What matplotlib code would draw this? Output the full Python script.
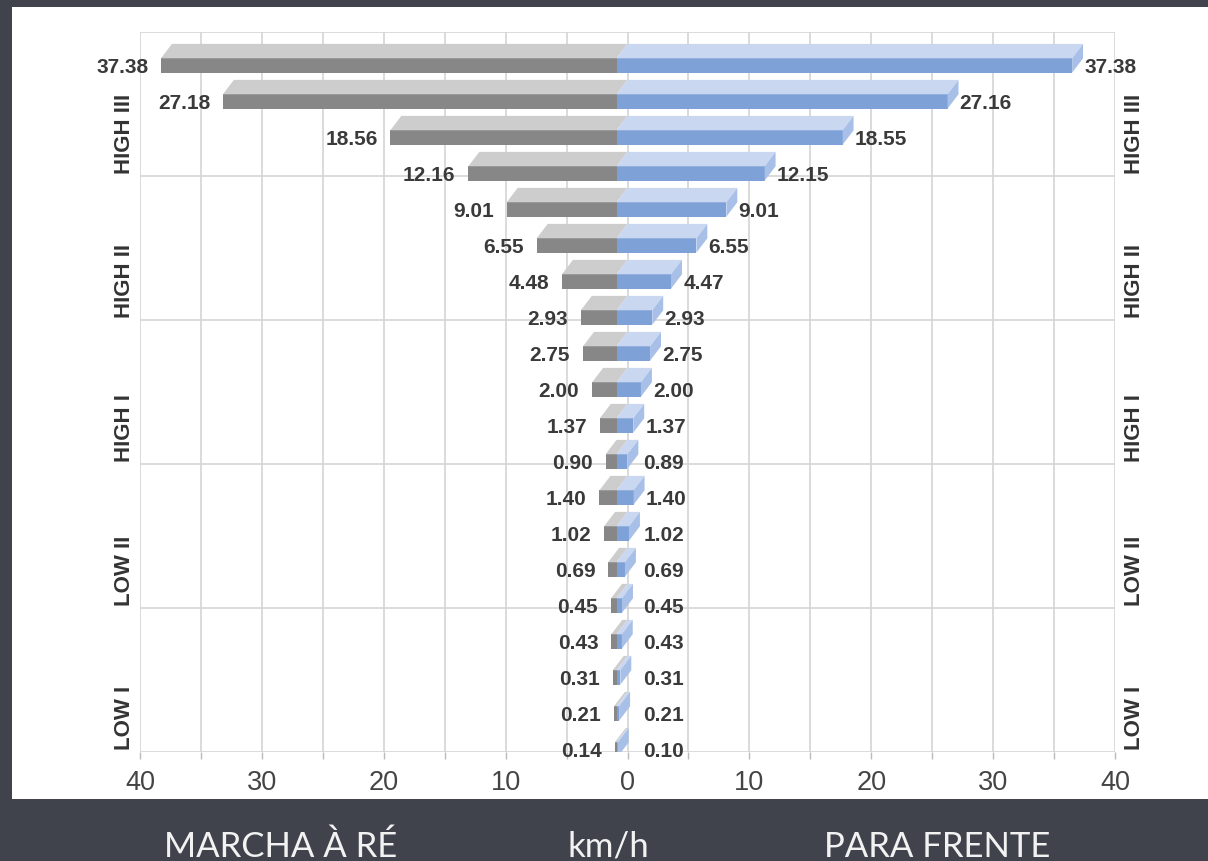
import numpy as np
import matplotlib.pyplot as plt
from matplotlib.patches import Polygon, Rectangle
from matplotlib.transforms import blended_transform_factory

# velocidades (km/h) por marcha, de cima para baixo
re_vals = [37.38, 27.18, 18.56, 12.16, 9.01, 6.55, 4.48, 2.93,
           2.75, 2.00, 1.37, 0.90, 1.40, 1.02, 0.69, 0.45,
           0.43, 0.31, 0.21, 0.14]
# comprimento desenhado das barras de ré (no original a 2ª barra é mais longa que o rótulo)
re_barras = [37.38, 32.3, 18.56, 12.16, 9.01, 6.55, 4.48, 2.93,
             2.75, 2.00, 1.37, 0.90, 1.40, 1.02, 0.69, 0.45,
             0.43, 0.31, 0.21, 0.14]
frente_vals = [37.38, 27.16, 18.55, 12.15, 9.01, 6.55, 4.47, 2.93,
               2.75, 2.00, 1.37, 0.89, 1.40, 1.02, 0.69, 0.45,
               0.43, 0.31, 0.21, 0.10]
grupos = ['HIGH III', 'HIGH II', 'HIGH I', 'LOW II', 'LOW I']
xticks = np.arange(-40, 41, 5)

bg = '#40434c'
cinza_frente, cinza_topo = '#878787', '#cdcdcd'
azul_frente, azul_topo, azul_lado = '#7ea2d8', '#c9d7f1', '#a8c0e8'

fig = plt.figure(figsize=(12.08, 8.62), dpi=100, facecolor=bg)
# painel branco
fig.patches.append(Rectangle((12 / 1208, 62 / 862), 1 - 12 / 1208, 792 / 862,
                             transform=fig.transFigure, facecolor='white',
                             edgecolor='none', zorder=-10))

ax = fig.add_axes([140 / 1208, 1 - 753 / 862, 975 / 1208, 720 / 862])
ax.set_zorder(1)
ax.set_facecolor('none')
ax.set_xlim(-40, 40)
ax.set_ylim(20, 0)

# grade
for t in xticks:
    ax.axvline(t, color='#d4d4d4', lw=1.2, zorder=1)
for g in range(0, 21, 4):
    ax.axhline(g, color='#d4d4d4', lw=1.2, zorder=1)
for sp in ax.spines.values():
    sp.set_visible(False)

s = 0.9      # deslocamento horizontal da profundidade
h = 0.4      # espessura da face frontal
d = 0.4      # profundidade vertical
n = len(re_vals)
yc = np.arange(n) + 0.93

# faces frontais
ax.barh(yc, [-v for v in re_barras], left=-s, height=h, color=cinza_frente, zorder=3)
ax.barh(yc, frente_vals, left=-s, height=h, color=azul_frente, zorder=3)

for i, (Lv, L, R) in enumerate(zip(re_vals, re_barras, frente_vals)):
    yft = yc[i] - h / 2
    yfb = yc[i] + h / 2
    ybt = yft - d
    ax.add_patch(Polygon([(-L - s, yft), (-s, yft), (0, ybt), (-L, ybt)],
                         closed=True, facecolor=cinza_topo, edgecolor='none', zorder=3))
    ax.add_patch(Polygon([(-s, yft), (R - s, yft), (R, ybt), (0, ybt)],
                         closed=True, facecolor=azul_topo, edgecolor='none', zorder=3))
    ax.add_patch(Polygon([(R - s, yft), (R, ybt), (R, ybt + h), (R - s, yfb)],
                         closed=True, facecolor=azul_lado, edgecolor='none', zorder=3))
    ax.text(-L - s - 1.05, i + 0.96, f'{Lv:.2f}', ha='right', va='center',
            fontsize=15, fontweight='bold', color='#3a3a3a',
            family='Liberation Sans', zorder=4)
    ax.text(max(R + 0.1, 1.3), i + 0.96, f'{R:.2f}', ha='left', va='center',
            fontsize=15, fontweight='bold', color='#3a3a3a',
            family='Liberation Sans', zorder=4)

# rótulos dos grupos nos dois lados
tr = blended_transform_factory(ax.transAxes, ax.transData)
for k, nome in enumerate(grupos):
    yb = (k + 1) * 4 - 0.08
    for xa in (-0.0154, 1.0205):
        ax.text(xa, yb, nome, rotation=90, ha='center', va='bottom',
                transform=tr, fontsize=16, fontweight='bold', color='#333333',
                family='Liberation Sans')

ax.set_xticks(xticks)
ax.set_xticklabels([str(abs(t)) if t % 10 == 0 else '' for t in xticks],
                   fontsize=19.5, color='#444444', family='Liberation Sans')
ax.tick_params(axis='x', length=5, width=1, color='#bbbbbb', pad=7)
ax.set_yticks([])

# legendas inferiores
for x, txt in [(0.232, 'MARCHA À RÉ'), (0.504, 'km/h'), (0.776, 'PARA FRENTE')]:
    fig.text(x, 0.006, txt, ha='center', va='baseline', fontsize=25,
             fontweight='normal', color='#f2f2f2', family='Lato')

fig.savefig('out.png', dpi=100, facecolor=bg)
